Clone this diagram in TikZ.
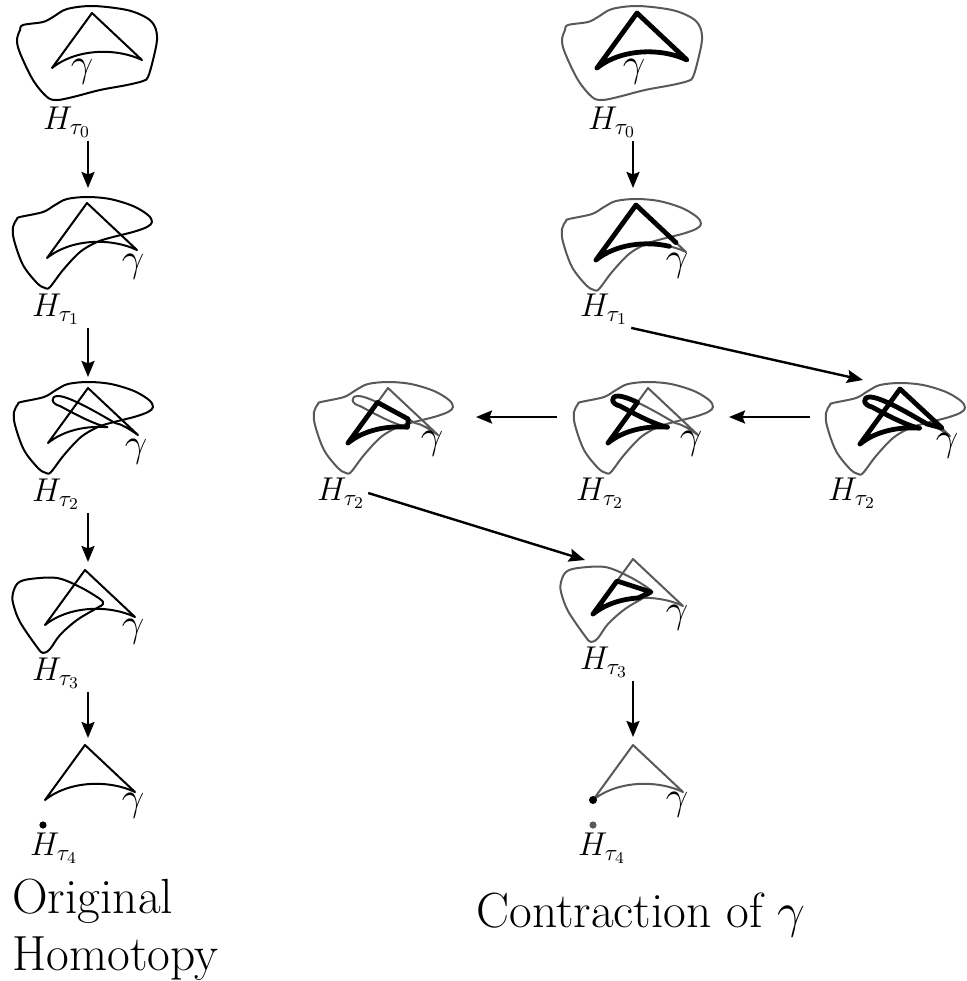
\RequirePackage{fix-cm}
\documentclass[tikz,border=0pt]{standalone}
\usepackage{amsmath}
\usetikzlibrary{arrows.meta,positioning}

%% curves, apex of the triangle at (0,0)
\newcommand{\tri}{(-40,55) -- (0,0) -- (50,47) .. controls (25,35) and (-15,35) .. cycle}
\newcommand{\loopg}{(-40,55) -- (0,0) -- (50,47) .. controls (40,40) and (33,36) .. (27,35) .. controls (5,22) and (-20,8) .. (-30,8) .. controls (-38,8) and (-37,16) .. (-28,18) .. controls (-15,25) and (5,36) .. (19.5,39.2) .. controls (-1,37.5) and (-24,42) .. cycle}
\newcommand{\blobZ}{plot[smooth cycle, tension=.55] coordinates {(-69,12) (-49,9) (-39,4) (-25,-4) (1,-7) (35,-3) (55,5) (63,14) (65,27) (61,47) (56,64) (51,68) (35,72) (8,77) (-19,84) (-35,87) (-45,84) (-59,67) (-72,40) (-75,27) (-72,17)}}
\newcommand{\blobA}{plot[smooth cycle, tension=.55] coordinates {(-67,14) (-44,9) (-32,2) (-20,-4) (0,-6) (23,-4) (46,3) (61,12) (65,19) (60,24) (46,29) (26,34) (10,39) (-7,49) (-24,67) (-37,84) (-42,85) (-50,80) (-64,62) (-73,37) (-74,24) (-70,16)}}
\newcommand{\blobB}{plot[smooth cycle, tension=.55] coordinates {(-72,23) (-67,13) (-55,9) (-28,8) (-5,17) (15,29) (18,34) (12,38) (-8,50) (-25,65) (-35,79) (-42,83) (-48,77) (-65,52) (-72,33)}}

\tikzset{
  thin line/.style={line width=1pt, line join=round},
  pale/.style={thin line, draw=black!65},
  bold/.style={line width=2.4pt, line join=round, line cap=round},
  hlab/.style={inner sep=1.5pt, font=\fontsize{16.5}{18}\selectfont},
  gam/.style={inner sep=0pt, font=\fontsize{20}{22}\selectfont},
  title/.style={inner sep=0pt, font=\fontsize{24.7}{29}\selectfont},
  arr/.style={->, line width=1.2pt}
}

\begin{document}
\begin{tikzpicture}[x=0.5pt, y=-0.5pt, >={Stealth[length=8pt,width=6.5pt,inset=1.2pt]}]
  \useasboundingbox (0,0) rectangle (966,981);

  %% original homotopy
  \begin{scope}[shift={(92,13)}]
    \draw[thin line] \blobZ;
    \draw[thin line] \tri;
    \node[gam] (g0) at (-10,59) {$\gamma$};
  \end{scope}
  \begin{scope}[shift={(87,203)}]
    \draw[thin line] \blobA;
    \draw[thin line] \tri;
    \node[gam] (g1) at (46,64) {$\gamma$};
    \coordinate (in1) at (1,-15);
  \end{scope}
  \begin{scope}[shift={(88,388)}]
    \draw[thin line] \blobA;
    \draw[thin line] \loopg;
    \node[gam] (g2) at (48,64) {$\gamma$};
    \coordinate (in2) at (0,-11);
  \end{scope}
  \begin{scope}[shift={(85,570)}]
    \draw[thin line] \blobB;
    \draw[thin line] \tri;
    \node[gam] (g3) at (48,62) {$\gamma$};
    \coordinate (in3) at (3,-8);
  \end{scope}
  \begin{scope}[shift={(85,745)}]
    \draw[thin line] \tri;
    \node[gam] (g4) at (48,61) {$\gamma$};
    \coordinate (in4) at (3,-7);
  \end{scope}
  \fill (43,825) circle[radius=1.8pt];

  \node[hlab] (h0) at (67,122) {$H_{\tau_0}$};
  \node[hlab] (h1) at (56,309) {$H_{\tau_1}$};
  \node[hlab] (h2) at (56,494) {$H_{\tau_2}$};
  \node[hlab] (h3) at (56,673) {$H_{\tau_3}$};
  \node[hlab] (h4) at (54,848) {$H_{\tau_4}$};

  \draw[arr] (h0.south -| in1) -- (in1); %% h0->1
  \draw[arr] (h1.south -| in2) -- (in2); %% h1->2
  \draw[arr] (h2.south -| in3) -- (in3); %% h2->3
  \draw[arr] (h3.south -| in4) -- (in4); %% h3->4

  %% contraction of gamma
  \begin{scope}[shift={(637,13)}]
    \draw[pale] \blobZ;
    \draw[bold] \tri;
    \node[gam] (gr0) at (-3,59) {$\gamma$};
  \end{scope}
  \begin{scope}[shift={(636,205)}]
    \draw[pale] \blobA;
    \draw[pale] \tri;
    \draw[bold] (33.4,41.3) .. controls (9.6,35.8) and (-20,39) .. (-40,55) -- (0,0) -- (40,37.6);
    \node[gam] (gr1) at (41,61) {$\gamma$};
    \coordinate (inr1) at (-3,-17);
  \end{scope}
  \begin{scope}[shift={(900,389)}]
    \draw[pale] \blobA;
    \draw[pale] \loopg;
    \draw[bold] (19.5,39.2) .. controls (-1,37.5) and (-24,42) .. (-40,55) -- (0,0) -- (42,39) -- (27,35) .. controls (5,22) and (-20,8) .. (-30,8) .. controls (-38,8) and (-37,16) .. (-28,18) .. controls (-15,25) and (5,36) .. cycle;
    \node[gam] (gvr) at (47,57) {$\gamma$};
    \coordinate (invr) at (-37,-9);
    \coordinate (outvr) at (-90,28);
  \end{scope}
  \begin{scope}[shift={(648,388)}]
    \draw[pale] \blobA;
    \draw[pale] \loopg;
    \draw[bold] (-10.5,14.4) .. controls (-18.8,10.5) and (-25.8,8) .. (-30,8) .. controls (-38,8) and (-37,16) .. (-28,18) .. controls (-15,25) and (5,36) .. (19.5,39.2) .. controls (-1,37.5) and (-24,42) .. (-40,55) -- cycle;
    \node[gam] (gvm) at (43,56) {$\gamma$};
    \coordinate (invm) at (81,29);
    \coordinate (outvm) at (-91,29);
  \end{scope}
  \begin{scope}[shift={(388,388)}]
    \draw[pale] \blobA;
    \draw[pale] \loopg;
    \draw[bold] (-40,55) -- (-10.5,14.4) -- (20.3,31.1) -- (19.5,39.2) .. controls (-1,37.5) and (-24,42) .. cycle;
    \node[gam] (gvl) at (44,56) {$\gamma$};
    \coordinate (invl) at (88,29);
  \end{scope}
  \begin{scope}[shift={(633,559)}]
    \draw[pale] \blobB;
    \draw[pale] \tri;
    \draw[bold] (-40,55) -- (-16,22) -- (18,33) -- (5,39) .. controls (-11.25,40) and (-27.5,45) .. cycle;
    \node[gam] (gr3) at (44,59) {$\gamma$};
    \coordinate (inr3) at (-48,1);
  \end{scope}
  \begin{scope}[shift={(633,745)}]
    \draw[pale] \tri;
    \fill (-40,55) circle[radius=2pt];
    \node[gam] (gr4) at (44,60) {$\gamma$};
    \coordinate (inr4) at (0,-8);
  \end{scope}
  \fill[black!65] (593,825) circle[radius=1.8pt];

  \node[hlab] (r0) at (612,122) {$H_{\tau_0}$};
  \node[hlab] (r1) at (604,309) {$H_{\tau_1}$};
  \node[hlab] (lvr) at (852,493) {$H_{\tau_2}$};
  \node[hlab] (lvm) at (600,493) {$H_{\tau_2}$};
  \node[hlab] (lvl) at (341,493) {$H_{\tau_2}$};
  \node[hlab] (r3) at (604,662) {$H_{\tau_3}$};
  \node[hlab] (r4) at (602,848) {$H_{\tau_4}$};

  \draw[arr] (r0.south -| inr1) -- (inr1); %% r0->r1
  \draw[arr] (r1.south east) -- (invr); %% r1->vr
  \draw[arr] (outvr) -- (invm); %% vr->vm
  \draw[arr] (outvm) -- (invl); %% vm->vl
  \draw[arr] (lvl.east) -- (inr3); %% vl->r3
  \draw[arr] (r3.south -| inr4) -- (inr4); %% r3->r4

  \node[title, anchor=base west] (orig) at (12,913) {Original};
  \node[title, anchor=base west] (homo) at (12,970) {Homotopy};
  \node[title, anchor=base west] (contr) at (476,927) {Contraction of $\gamma$};
\end{tikzpicture}
\end{document}
